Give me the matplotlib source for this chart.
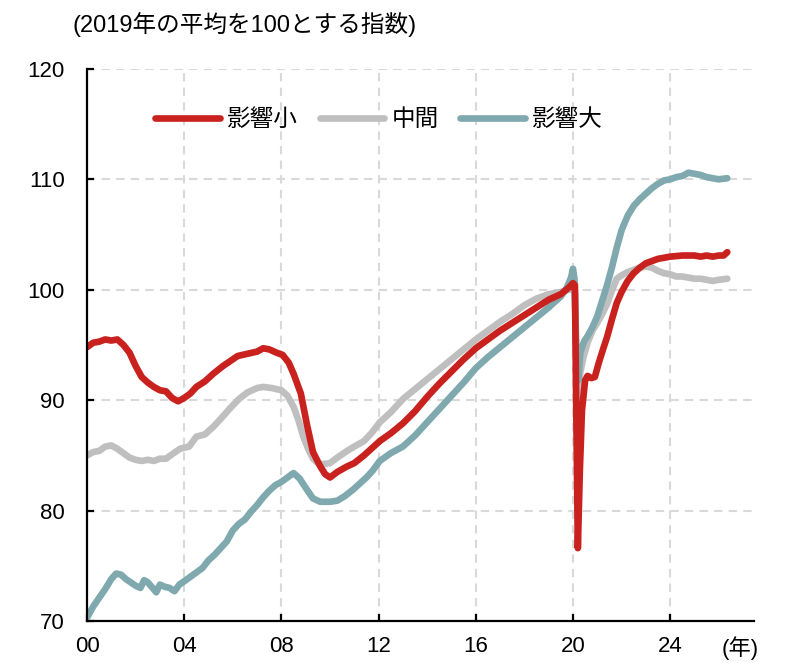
import matplotlib
matplotlib.use('Agg')
from matplotlib import pyplot as plt

# (year, index), 2019 average = 100
years_small = [2000.0, 2000.25, 2000.5, 2000.75, 2001.0, 2001.25, 2001.5, 2001.75,
               2002.0, 2002.25, 2002.5, 2002.75, 2003.0, 2003.25, 2003.5, 2003.75,
               2004.0, 2004.25, 2004.5, 2004.85, 2005.2, 2005.6, 2006.2, 2006.6,
               2007.0, 2007.25, 2007.5, 2007.8, 2008.05, 2008.3, 2008.5, 2008.8,
               2009.05, 2009.3, 2009.6, 2009.8, 2010.0, 2010.3, 2010.7, 2011.0,
               2011.4, 2011.7, 2012.05, 2012.5, 2013.0, 2013.5, 2014.0, 2014.5,
               2015.0, 2015.5, 2016.0, 2016.5, 2017.0, 2017.5, 2018.0, 2018.5,
               2019.0, 2019.5, 2019.83, 2020.0, 2020.08, 2020.12, 2020.2, 2020.28,
               2020.37, 2020.5, 2020.6, 2020.75, 2020.9, 2021.05, 2021.25, 2021.4,
               2021.6, 2021.8, 2022.0, 2022.25, 2022.5, 2022.75, 2023.0, 2023.25,
               2023.5, 2023.75, 2024.0, 2024.5, 2025.0, 2025.25, 2025.5, 2025.75,
               2026.0, 2026.2, 2026.35]
small = [94.8, 95.2, 95.3, 95.5, 95.4, 95.5, 95.0, 94.3,
         93.1, 92.1, 91.6, 91.2, 90.9, 90.8, 90.2, 89.9,
         90.2, 90.6, 91.2, 91.7, 92.4, 93.1, 94.0, 94.2,
         94.4, 94.7, 94.6, 94.3, 94.1, 93.4, 92.4, 90.6,
         87.8, 85.3, 84.0, 83.3, 83.0, 83.5, 84.0, 84.3,
         85.0, 85.6, 86.3, 87.0, 87.9, 89.0, 90.3, 91.5,
         92.6, 93.7, 94.7, 95.5, 96.3, 97.0, 97.7, 98.4,
         99.1, 99.6, 100.2, 100.6, 100.4, 92.0, 76.6, 83.5,
         89.1, 91.8, 92.2, 92.0, 92.1, 93.3, 94.7, 95.7,
         97.3, 98.8, 99.8, 100.8, 101.5, 102.0, 102.4, 102.6,
         102.8, 102.9, 103.0, 103.1, 103.1, 103.0, 103.1, 103.0,
         103.1, 103.1, 103.4]

years_mid = [2000.0, 2000.25, 2000.5, 2000.75, 2001.0, 2001.25, 2001.5, 2001.75,
             2002.0, 2002.25, 2002.5, 2002.75, 2003.0, 2003.25, 2003.5, 2003.83,
             2004.2, 2004.5, 2004.85, 2005.2, 2005.5, 2005.9, 2006.25, 2006.6,
             2007.0, 2007.25, 2007.6, 2008.0, 2008.25, 2008.5, 2008.7, 2008.9,
             2009.1, 2009.3, 2009.5, 2009.7, 2010.0, 2010.3, 2010.7, 2011.0,
             2011.4, 2011.7, 2012.05, 2012.5, 2013.0, 2013.5, 2014.0, 2014.5,
             2015.0, 2015.5, 2016.0, 2016.5, 2017.0, 2017.5, 2018.0, 2018.5,
             2019.0, 2019.5, 2019.83, 2020.0, 2020.08, 2020.14, 2020.22, 2020.3,
             2020.42, 2020.6, 2020.8, 2021.0, 2021.2, 2021.4, 2021.6, 2021.8,
             2022.0, 2022.25, 2022.5, 2022.75, 2023.0, 2023.25, 2023.5, 2023.75,
             2024.0, 2024.25, 2024.5, 2024.75, 2025.0, 2025.25, 2025.5, 2025.75,
             2026.0, 2026.35]
mid = [85.0, 85.3, 85.4, 85.8, 85.9, 85.6, 85.2, 84.8,
       84.6, 84.5, 84.6, 84.5, 84.7, 84.7, 85.1, 85.6,
       85.8, 86.7, 86.9, 87.6, 88.3, 89.3, 90.1, 90.7,
       91.1, 91.2, 91.1, 90.9, 90.4, 89.4, 88.2, 86.7,
       85.6, 84.7, 84.3, 84.2, 84.3, 84.8, 85.4, 85.8,
       86.3, 87.0, 88.0, 88.9, 90.1, 91.0, 91.9, 92.8,
       93.7, 94.6, 95.5, 96.3, 97.1, 97.8, 98.6, 99.2,
       99.6, 99.8, 100.0, 100.1, 99.6, 94.0, 90.3, 92.5,
       93.8, 95.2, 96.3, 97.0, 97.8, 98.7, 99.9, 101.0,
       101.3, 101.6, 101.8, 102.0, 102.1, 102.0, 101.7, 101.5,
       101.4, 101.2, 101.2, 101.1, 101.0, 101.0, 100.9, 100.8,
       100.9, 101.0]

years_large = [2000.0, 2000.25, 2000.5, 2000.75, 2001.0, 2001.2, 2001.4, 2001.6,
               2001.8, 2002.0, 2002.2, 2002.35, 2002.5, 2002.7, 2002.85, 2003.0,
               2003.2, 2003.4, 2003.6, 2003.8, 2004.0, 2004.25, 2004.5, 2004.75,
               2005.0, 2005.25, 2005.5, 2005.75, 2006.0, 2006.25, 2006.5, 2006.75,
               2007.0, 2007.25, 2007.5, 2007.75, 2008.0, 2008.25, 2008.5, 2008.75,
               2009.05, 2009.3, 2009.6, 2010.0, 2010.3, 2010.6, 2010.95, 2011.25,
               2011.5, 2011.75, 2012.05, 2012.5, 2013.0, 2013.5, 2014.0, 2014.5,
               2015.0, 2015.5, 2016.0, 2016.5, 2017.0, 2017.5, 2018.0, 2018.5,
               2019.0, 2019.5, 2019.75, 2019.92, 2020.0, 2020.06, 2020.14, 2020.22,
               2020.3, 2020.45, 2020.6, 2020.8, 2021.0, 2021.2, 2021.4, 2021.6,
               2021.8, 2022.0, 2022.25, 2022.5, 2022.75, 2023.0, 2023.25, 2023.5,
               2023.75, 2024.0, 2024.25, 2024.5, 2024.75, 2025.0, 2025.25, 2025.5,
               2025.75, 2026.0, 2026.35]
large = [70.3, 71.3, 72.1, 72.9, 73.8, 74.3, 74.2, 73.8,
         73.5, 73.2, 73.0, 73.7, 73.5, 73.0, 72.6, 73.3,
         73.1, 73.0, 72.7, 73.3, 73.6, 74.0, 74.4, 74.8,
         75.5, 76.0, 76.6, 77.2, 78.2, 78.8, 79.2, 79.9,
         80.5, 81.2, 81.8, 82.3, 82.6, 83.0, 83.4, 82.9,
         81.9, 81.1, 80.8, 80.8, 80.9, 81.3, 81.9, 82.5,
         83.0, 83.6, 84.5, 85.2, 85.8, 86.8, 88.0, 89.2,
         90.4, 91.6, 92.9, 93.9, 94.8, 95.7, 96.6, 97.5,
         98.4, 99.4, 100.2, 101.1, 101.9, 101.0, 94.0, 91.8,
         94.3, 95.3, 95.8, 96.6, 97.6, 99.0, 100.4, 102.0,
         103.8, 105.4, 106.7, 107.6, 108.2, 108.7, 109.2, 109.6,
         109.9, 110.0, 110.2, 110.3, 110.6, 110.5, 110.4, 110.2,
         110.1, 110.0, 110.1]

labels = ['影響小', '中間', '影響大']
colors = ['#C9211E', '#BFBFBF', '#7FA9AE']
x_ticks = [2000, 2004, 2008, 2012, 2016, 2020, 2024]
x_ticklabels = ['00', '04', '08', '12', '16', '20', '24']
y_ticks = [70, 80, 90, 100, 110, 120]

plt.rcParams['font.family'] = ['Liberation Sans', 'Noto Sans CJK JP', 'DejaVu Sans']

fig = plt.figure(figsize=(7.86, 6.69), dpi=100)
ax = fig.add_axes([0.1107, 0.0717, 0.8486, 0.8253])

series = [(years_small, small), (years_mid, mid), (years_large, large)]
# grey first, then teal, red on top
for idx in [1, 2, 0]:
    xs, ys = series[idx]
    ax.plot(xs, ys, color=colors[idx], lw=4.8, solid_capstyle='round',
            solid_joinstyle='round', label=labels[idx])

ax.set_xlim(2000, 2027.45)
ax.set_ylim(70, 120)
ax.set_xticks(x_ticks)
ax.set_xticklabels(x_ticklabels)
ax.set_yticks(y_ticks)

for x in x_ticks[1:]:
    ax.axvline(x, color='#D9D9D9', lw=1.5, ls=(0, (4, 3)), zorder=0)
for y in y_ticks[1:]:
    ax.axhline(y, color='#D9D9D9', lw=1.5, ls=(0, (4, 3)), zorder=0)

ax.spines['top'].set_visible(False)
ax.spines['right'].set_visible(False)
ax.spines['left'].set_linewidth(1.6)
ax.spines['bottom'].set_linewidth(1.6)
ax.tick_params(axis='both', direction='in', length=5, width=1.6, labelsize=16, colors='black')
ax.tick_params(axis='x', pad=11)
ax.tick_params(axis='y', pad=16)

handles, lbls = ax.get_legend_handles_labels()
order = [lbls.index(l) for l in labels]
leg = ax.legend([handles[i] for i in order], [lbls[i] for i in order],
                loc='center', bbox_to_anchor=(0.438, 0.907), ncol=3, frameon=False,
                fontsize=17, handlelength=2.75, handletextpad=0.3, columnspacing=0.9)

fig.text(73 / 786, 1 - 25 / 669, '(2019年の平均を100とする指数)', fontsize=17,
         ha='left', va='center')
fig.text(740 / 786, 1 - 648 / 669, '(年)', fontsize=16, ha='center', va='center')

fig.savefig('out.png', dpi=100)
